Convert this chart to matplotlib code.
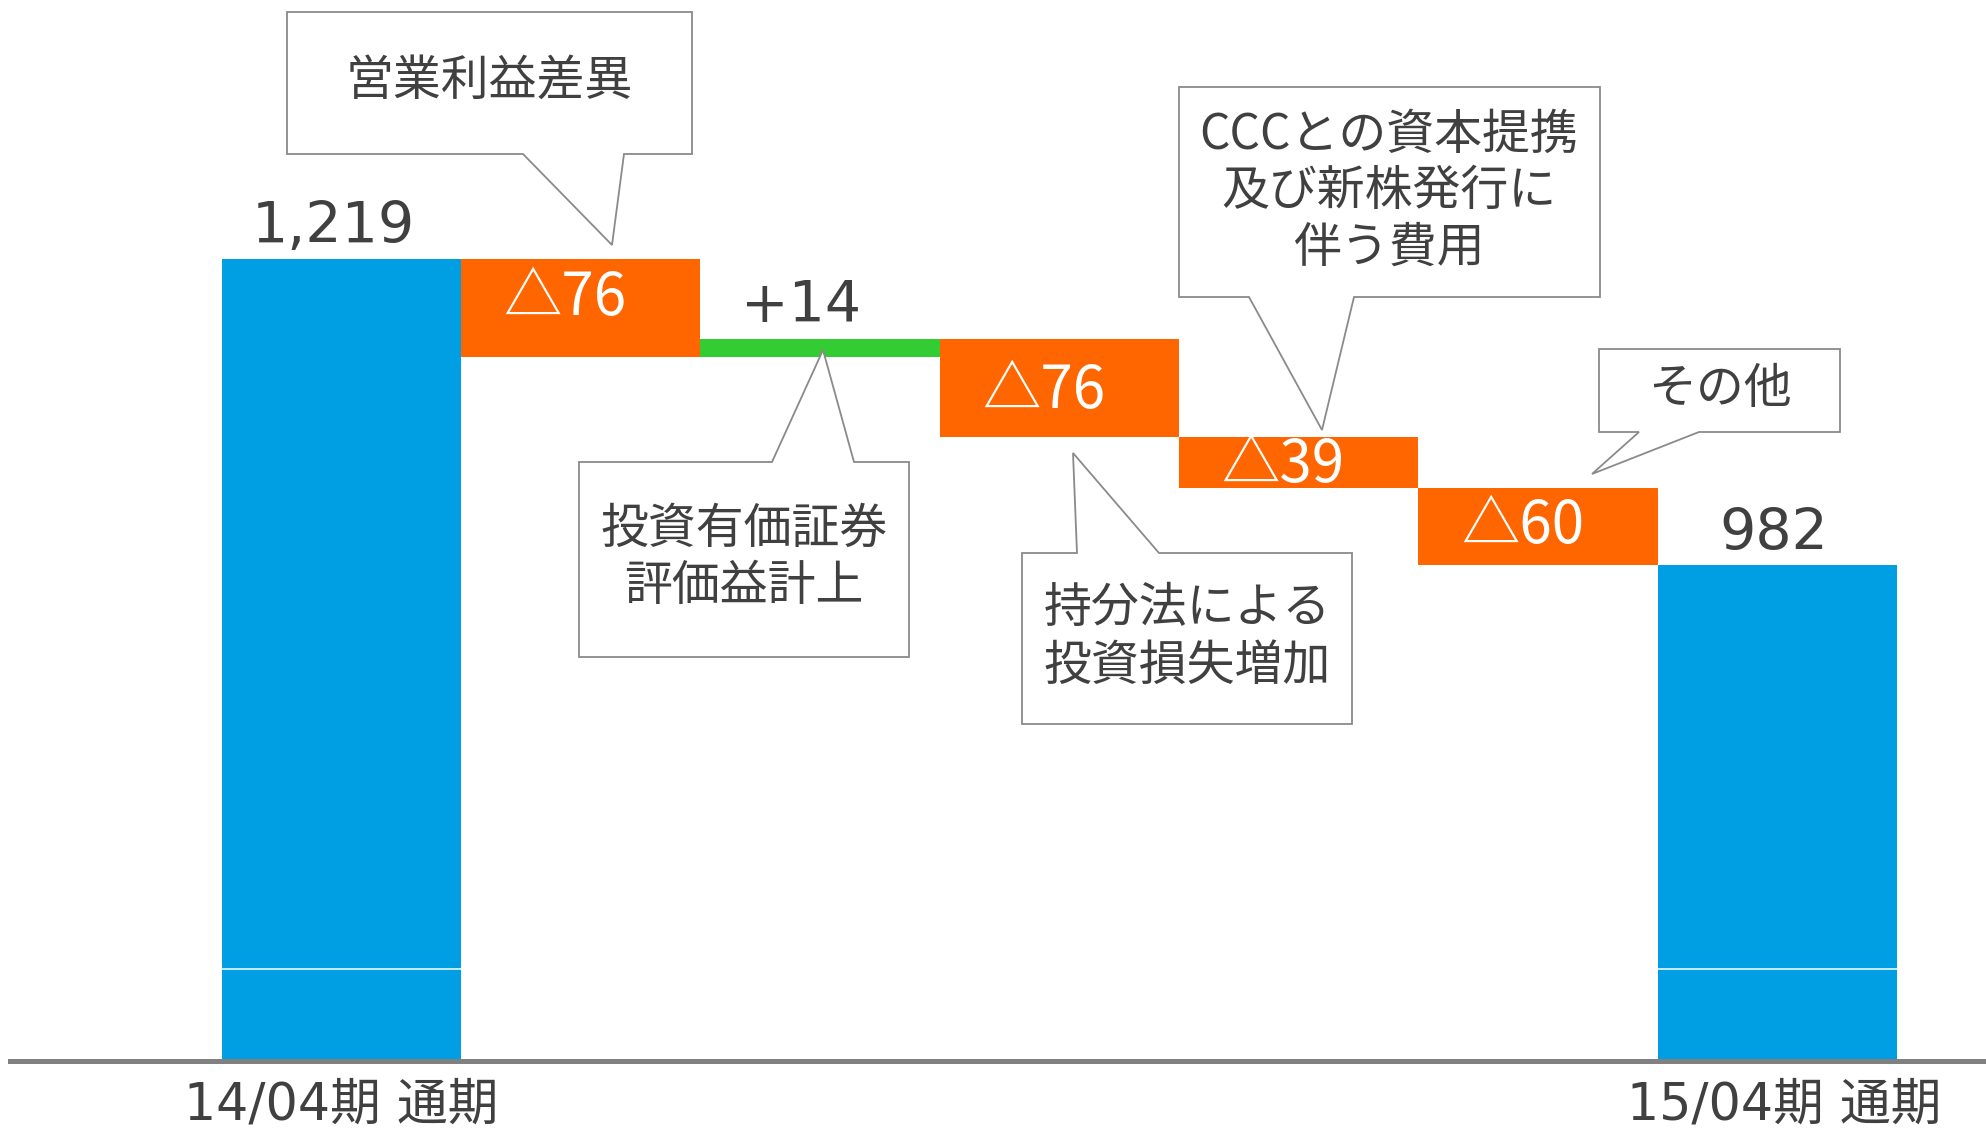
import numpy as np
import matplotlib
matplotlib.use("Agg")
import matplotlib.pyplot as plt
from matplotlib.patches import Polygon

plt.rcParams['font.family'] = ['DejaVu Sans', 'Noto Sans CJK JP']

# data
start_label = "14/04期 通期"
end_label = "15/04期 通期"
start_value = 1219
deltas = [-76, 14, -76, -39, -60]
end_value = 982
delta_texts = ["△76", "+14", "△76", "△39", "△60"]
notes = ["営業利益差異", "投資有価証券\n評価益計上", "持分法による\n投資損失増加",
         "CCCとの資本提携\n及び新株発行に\n伴う費用", "その他"]

BLUE = "#009FE3"
ORANGE = "#FF6600"
GREEN = "#33CC33"
TXT = "#404040"
EDGE = "#8a8a8a"

# broken axis: values above BREAK are drawn to scale, the rest is compressed away
BREAK = 599

# layout of the original picture (pixels)
X0, XW = 341.5, 239.3     # centre of first bar, bar pitch
Y0, YS = 1059.0, 1.29     # baseline pixel, pixels per unit


def pd(x, y):
    return ((x - X0) / XW, (Y0 - y) / YS)


fig = plt.figure(figsize=(19.86, 11.30), dpi=100)
ax = fig.add_axes([0, 0, 1, 1])
ax.set_xlim(pd(0, 0)[0], pd(1986, 0)[0])
ax.set_ylim(pd(0, 1130)[1], pd(0, 0)[1])
ax.axis('off')

n = len(deltas)
xs = np.arange(n + 2)

# totals
for xi, v in [(0, start_value), (n + 1, end_value)]:
    ax.bar(xi, v - BREAK, width=1.0, bottom=0, color=BLUE, zorder=2)
    ax.hlines(70, xi - 0.5, xi + 0.5, color="white", lw=1.1, zorder=3)

# steps
level = start_value
tops = []
for i, d in enumerate(deltas):
    new = level + d
    lo, hi = min(level, new), max(level, new)
    ax.bar(xs[i + 1], hi - lo, width=1.0, bottom=lo - BREAK,
           color=GREEN if d > 0 else ORANGE, zorder=2)
    tops.append((lo, hi))
    level = new

# axis line
ax.axhline(-1.9, xmin=10 / 1986, xmax=1, color="#808080", lw=3.6, zorder=4)

# total labels
ax.text(0 - 0.035, start_value - BREAK + 12.5, f"{start_value:,}", ha="center",
        va="baseline", fontsize=41, color=TXT)
ax.text(n + 1 - 0.015, end_value - BREAK + 11.5, f"{end_value:,}", ha="center",
        va="baseline", fontsize=41, color=TXT)

# delta labels (baseline offset below bar centre, in pixels)
dy_px = [7, None, 20, 20, 17]
for i, (d, t) in enumerate(zip(deltas, delta_texts)):
    lo, hi = tops[i]
    if d > 0:
        ax.text(xs[i + 1] - 0.08, hi - BREAK + 17 / YS, t, ha="center",
                va="baseline", fontsize=41, color=TXT)
    else:
        yc = (lo + hi) / 2 - BREAK - dy_px[i] / YS
        ax.text(xs[i + 1] - 0.065, yc, t, ha="center", va="baseline",
                fontsize=42, color="white", family=['Noto Sans CJK JP'])

# category labels
ax.text(0, pd(0, 1119)[1], start_label, ha="center", va="baseline",
        fontsize=36.5, color=TXT)
ax.text(n + 1 + 0.03, pd(0, 1119)[1], end_label, ha="center", va="baseline",
        fontsize=36.5, color=TXT)

# callouts (outline in picture pixels, text centre lines)
callouts = [
    ([(287, 12), (692, 12), (692, 154), (624, 154), (612, 245), (523, 154), (287, 154)],
     489, [77]),
    ([(579, 462), (772, 462), (823, 350), (854, 462), (909, 462), (909, 657), (579, 657)],
     744, [525, 582]),
    ([(1022, 553), (1077, 553), (1073, 453), (1159, 553), (1352, 553), (1352, 724), (1022, 724)],
     1187, [604, 662]),
    ([(1179, 87), (1600, 87), (1600, 297), (1354, 297), (1322, 430), (1249, 297), (1179, 297)],
     1389, [131, 187, 244]),
    ([(1599, 349), (1840, 349), (1840, 432), (1699, 432), (1592, 474), (1639, 432), (1599, 432)],
     1720, [385]),
]
for note, (outline, cx, ys) in zip(notes, callouts):
    pts = [pd(x, y) for x, y in outline]
    ax.add_patch(Polygon(pts, closed=True, facecolor="white", edgecolor=EDGE,
                         lw=1.3, zorder=5))
    for line, y in zip(note.split("\n"), ys):
        px_, py_ = pd(cx, y + 4)
        ax.text(px_, py_, line, ha="center", va="center", fontsize=34.5,
                color=TXT, family=['Noto Sans CJK JP'], zorder=6)

fig.savefig("out.png", dpi=100)
